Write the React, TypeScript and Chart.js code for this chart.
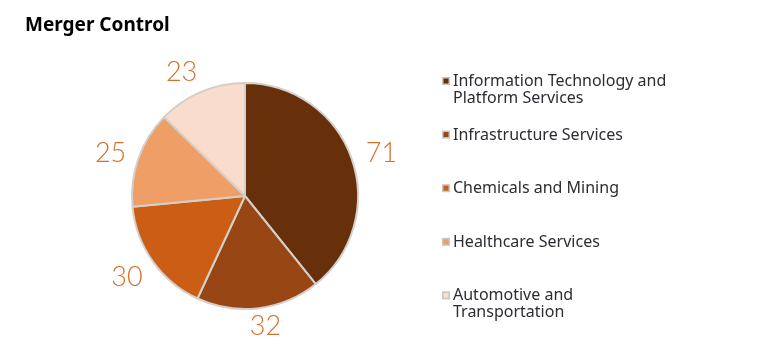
import React, { useEffect, useRef } from "react";
import { Chart, registerables } from "chart.js";

Chart.register(...registerables);

const title = "Merger Control";
const categories = [
  "Information Technology and Platform Services",
  "Infrastructure Services",
  "Chemicals and Mining",
  "Healthcare Services",
  "Automotive and Transportation",
];
const legendLines = [
  ["Information Technology and", "Platform Services"],
  ["Infrastructure Services"],
  ["Chemicals and Mining"],
  ["Healthcare Services"],
  ["Automotive and", "Transportation"],
];
const values = [71, 32, 30, 25, 23];
const colors = ["#67300b", "#984614", "#cb5e14", "#ef9e66", "#f9dccb"];

const LABEL_COLOR = "#d2712e";
const TEXT_COLOR = "#2d2c33";

const overlayPlugin = {
  id: "overlay",
  afterDraw(chart: any) {
    const ctx = chart.ctx;
    ctx.save();
    // title
    ctx.fillStyle = "#000";
    ctx.font = "bold 19px 'Noto Sans'";
    ctx.textAlign = "left";
    ctx.textBaseline = "alphabetic";
    ctx.fillText(title, 25, 31);

    // data labels
    const meta = chart.getDatasetMeta(0);
    ctx.font = "300 27px Lato";
    ctx.fillStyle = LABEL_COLOR;
    meta.data.forEach((arc: any, i: number) => {
      const mid = (arc.startAngle + arc.endAngle) / 2;
      const R = arc.outerRadius + 15;
      const c = Math.cos(mid);
      const s = Math.sin(mid);
      const x = arc.x + c * R;
      const y = arc.y + s * R;
      ctx.textAlign = c > 0.3 ? "left" : c < -0.3 ? "right" : "center";
      ctx.textBaseline = "middle";
      const dx = Math.abs(c) <= 0.3 ? 5 : c < -0.3 ? 2 : 0;
      const dy = s < -0.5 ? 6 * s : s > 0.3 ? (s > 0.9 ? 3 : 7) : 0;
      ctx.fillText(String(values[i]), x + dx, y + dy);
    });

    // legend
    ctx.font = "16px 'Noto Sans'";
    ctx.textAlign = "left";
    ctx.textBaseline = "alphabetic";
    const firstBaseline = 86;
    const step = 53.6;
    legendLines.forEach((lines, i) => {
      const by = firstBaseline + step * i;
      ctx.fillStyle = "#c9c6c4";
      ctx.fillRect(442, by - 9, 8, 8);
      ctx.fillStyle = colors[i];
      ctx.fillRect(443.5, by - 7.5, 5, 5);
      ctx.fillStyle = TEXT_COLOR;
      lines.forEach((ln, j) => {
        ctx.fillText(ln, 453, by + j * 16.7);
      });
    });
    ctx.restore();
  },
};

export default function App() {
  const ref = useRef<HTMLCanvasElement | null>(null);
  useEffect(() => {
    document.body.style.margin = "0";
    const chart = new Chart(ref.current as HTMLCanvasElement, {
      type: "pie",
      data: {
        labels: categories,
        datasets: [
          {
            data: values,
            backgroundColor: colors,
            borderColor: "#d3cfcb",
            borderWidth: 2,
          },
        ],
      },
      options: {
        animation: false,
        responsive: true,
        maintainAspectRatio: false,
        layout: { padding: { left: 131, right: 399, top: 82, bottom: 49 } },
        plugins: {
          legend: { display: false },
          tooltip: { enabled: false },
          title: { display: false },
        },
      },
      plugins: [overlayPlugin],
    });
    return () => chart.destroy();
  }, []);
  return (
    <div style={{ position: "fixed", left: 0, top: 0, width: 758, height: 359, background: "#fff" }}>
      <canvas ref={ref} />
    </div>
  );
}
